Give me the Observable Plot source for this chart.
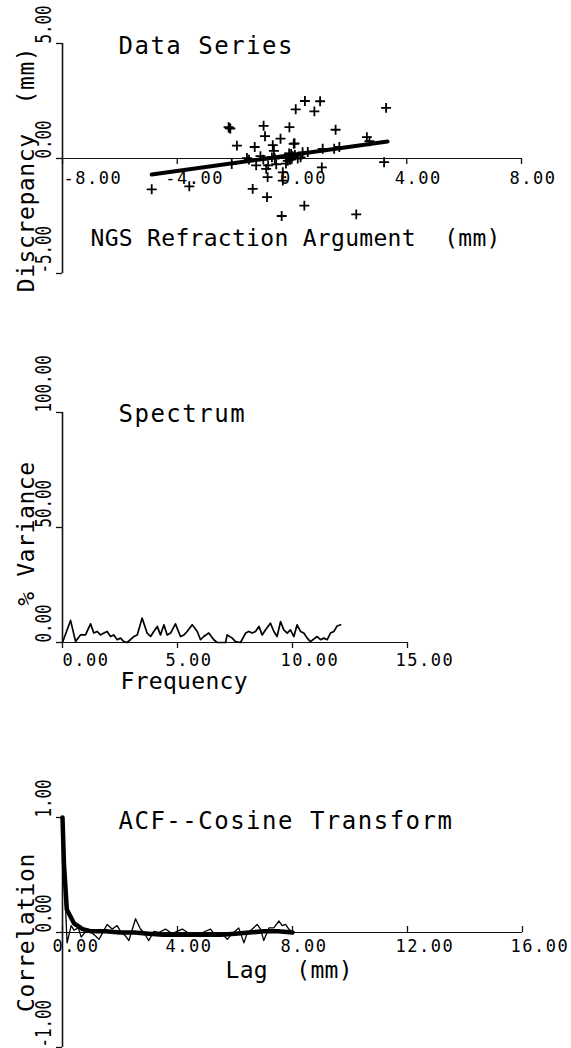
<!DOCTYPE html>
<html><head><meta charset="utf-8">
<script src="https://cdn.jsdelivr.net/npm/d3@7"></script>
<script src="https://cdn.jsdelivr.net/npm/@observablehq/plot@0.6"></script>
<style>
html,body{margin:0;padding:0;background:#fff;}
#wrap{position:relative;width:571px;height:1048px;overflow:hidden;background:#fff;}
.panel{position:absolute;left:0;}
svg{overflow:visible;}
g[aria-description="ptitle"] text{letter-spacing:1.5px;}
g[aria-description="xtick"] text{letter-spacing:1.5px;}
g[aria-description="xlabel"] text{letter-spacing:0.3px;}
g[aria-description="ylabel"] text{letter-spacing:0.6px;}
</style></head><body>
<div id="wrap">
<div id="p1" class="panel" style="top:0px"></div>
<div id="p2" class="panel" style="top:340px"></div>
<div id="p3" class="panel" style="top:720px"></div>
</div>
<script>
// ---------- Panel 1: Data Series ----------
const scatterX = [-4.89,-3.58,-2.18,-2.15,-2.21,-1.92,-1.30,-0.99,-0.94,-0.09,-0.40,-0.67,-0.63,0.06,0.09,0.13,0.45,0.78,0.98,1.52,2.61,3.28,3.21,-1.37,-0.87,-0.36,0.43,2.24,1.04,-0.85,-0.32,-0.32,-0.90,-1.25,-1.57,-0.83,-0.21,-0.09,-0.03,0.37,0.55,1.07,1.47,1.65,-2.10,-0.15,-0.05,0.02,-0.55,-0.70,0.30,2.70,-1.00,-0.60,-0.20,0.10,0.20,-1.10,-1.50,-0.10];
const scatterY = [-1.34,-1.21,1.33,1.30,1.36,0.56,0.50,1.42,0.97,1.36,0.86,0.58,0.33,0.64,0.66,2.14,2.50,2.05,2.49,1.25,0.93,2.20,-0.16,-1.32,-1.68,-2.50,-2.05,-2.43,-0.39,-0.81,-0.96,-0.60,-0.45,-0.30,0.02,-0.30,-0.22,0.01,0.20,0.27,0.28,0.42,0.42,0.50,-0.24,-0.10,-0.05,0.10,-0.25,0.05,0.05,0.75,-0.05,0.00,0.05,0.15,0.00,0.10,-0.05,0.22];
const fitX = [-4.89, 3.33];
const fitY = [-0.70, 0.74];
const p1XTicks = [-8, -4, 0, 4, 8];
const p1XTickLabels = ["-8.00", "-4.00", "0.00", "4.00", "8.00"];
const p1YTicks = [-5, 0, 5];
const p1YTickLabels = ["-5.00", "0.00", "5.00"];

// ---------- Panel 2: Spectrum ----------
const specFreq = [0.00,0.35,0.57,0.78,1.00,1.22,1.36,1.51,1.65,1.80,1.94,2.09,2.23,2.38,2.52,2.67,2.81,3.10,3.25,3.46,3.68,3.83,3.97,4.12,4.26,4.41,4.55,4.70,4.91,5.13,5.28,5.42,5.64,5.86,6.00,6.14,6.36,6.58,6.72,7.09,7.16,7.38,7.52,7.74,7.96,8.10,8.25,8.39,8.54,8.68,8.83,9.04,9.19,9.33,9.48,9.62,9.77,9.91,10.06,10.20,10.35,10.49,10.64,10.78,11.07,11.22,11.36,11.51,11.65,11.80,11.94,12.09];
const specVar = [0.0,9.6,0.4,3.3,3.3,8.1,4.1,4.8,3.3,4.1,4.8,2.6,3.3,1.2,1.9,0.4,0.0,2.6,3.3,10.6,4.1,2.6,4.8,7.0,3.3,7.7,3.3,4.1,8.1,2.6,3.3,4.8,7.7,4.8,1.2,2.6,4.1,1.2,0.0,0.0,3.3,1.9,0.4,0.0,4.1,4.8,4.1,4.8,7.0,3.3,5.5,8.4,4.8,2.6,9.1,5.5,4.1,5.5,2.6,7.7,4.8,4.1,1.9,0.4,2.6,1.2,1.9,1.2,4.1,4.8,7.2,7.7];
const p2XTicks = [0, 5, 10, 15];
const p2XTickLabels = ["0.00", "5.00", "10.00", "15.00"];
const p2YTicks = [0, 50, 100];
const p2YTickLabels = ["0.00", "50.00", "100.00"];

// ---------- Panel 3: ACF--Cosine Transform ----------
const acfLag = [0.00,0.10,0.16,0.30,0.40,0.55,0.65,0.87,1.15,1.27,1.38,1.55,1.73,1.90,2.02,2.19,2.31,2.54,2.71,2.83,3.00,3.18,3.35,3.58,3.81,4.17,4.40,4.63,4.87,5.15,5.32,5.56,5.73,5.90,6.13,6.31,6.42,6.60,6.77,6.89,7.00,7.18,7.35,7.53,7.64,7.76,7.87,8.00];
const acfVal = [1.00,0.25,-0.09,0.06,0.02,0.04,-0.04,0.03,-0.03,-0.06,-0.01,0.07,0.03,0.06,0.01,-0.03,-0.07,0.12,0.03,0.00,-0.07,0.01,0.00,0.03,-0.01,0.03,-0.01,-0.03,0.00,0.03,-0.03,-0.01,-0.06,-0.01,0.04,-0.09,-0.01,0.03,0.07,0.03,-0.07,0.04,0.04,0.10,0.06,0.07,0.03,0.00];
const acfSmoothLag = [0.00,0.05,0.15,0.40,0.70,1.00,1.50,2.00,2.50,3.00,3.50,4.00,4.50,5.00,5.50,6.00,6.50,7.00,7.50,8.00];
const acfSmoothVal = [1.00,0.60,0.20,0.08,0.03,0.01,0.01,0.00,0.00,-0.01,-0.02,-0.02,-0.02,-0.02,-0.02,-0.01,0.00,0.01,0.01,0.00];
const p3XTicks = [0, 4, 8, 12, 16];
const p3XTickLabels = ["0.00", "4.00", "8.00", "12.00", "16.00"];
const p3YTicks = [-1, 0, 1];
const p3YTickLabels = ["-1.00", "0.00", "1.00"];

const FONT = "'DejaVu Sans Mono', monospace";

function panel(id, F) {
  const x0 = F.xDomain[0];
  const xt = F.xTicks.map((v, i) => ({v, label: F.xTickLabels[i]}));
  const yt = F.yTicks.map((v, i) => ({v, label: F.yTickLabels[i]}));
  const chart = Plot.plot({
    width: 571, height: F.height,
    marginLeft: 62, marginRight: F.marginRight, marginTop: F.marginTop, marginBottom: F.marginBottom,
    x: {domain: F.xDomain, axis: null},
    y: {domain: F.yDomain, axis: null},
    style: {fontFamily: FONT, background: "transparent", overflow: "visible", color: "#000"},
    marks: [
      Plot.ruleY([0], {stroke: "#111", strokeWidth: 1.2}),
      Plot.ruleX([x0], {stroke: "#111", strokeWidth: 1.6}),
      Plot.ruleX(F.xTicks, {x: d => d, y1: () => 0, y2: () => 0,
        insetTop: F.tickUp ? -6 : 0, insetBottom: F.tickUp ? 0 : -6, stroke: "#111", strokeWidth: 1.3}),
      Plot.ruleY(F.yTicks, {y: d => d, x1: () => x0, x2: () => x0, insetLeft: -6, stroke: "#111", strokeWidth: 1.3}),
      ...F.marks,
      Plot.text(xt.slice(0, 1), {x: "v", y: () => 0, text: "label", textAnchor: "start", dx: F.firstDx, dy: F.tickDy, fontSize: 17, ariaDescription: "xtick"}),
      Plot.text(xt.slice(1), {x: "v", y: () => 0, text: "label", textAnchor: "start", dx: -12, dy: F.tickDy, fontSize: 17, ariaDescription: "xtick"}),
      Plot.text(yt, {y: "v", text: "label", frameAnchor: "left", dx: -19, rotate: -90, textAnchor: "start", fontSize: 22, ariaDescription: "ytick"}),
      Plot.text([F.title], {frameAnchor: "top-left", dx: 56, dy: F.titleDy, textAnchor: "start", fontSize: 24, ariaDescription: "ptitle"}),
      Plot.text([F.xLabel], {y: () => 0, frameAnchor: "left", dx: F.xLabelDx, dy: F.xLabelDy, textAnchor: "start", fontSize: 23, ariaDescription: "xlabel"}),
      Plot.text([F.yLabel], {frameAnchor: "left", dx: -36, dy: F.yLabelDy, rotate: -90, textAnchor: "middle", fontSize: 23, ariaDescription: "ylabel"})
    ]
  });
  d3.select(chart).selectAll('g[aria-description="ytick"] text').each(function() {
    const t = this.getAttribute("transform") || "";
    this.setAttribute("transform", t + " scale(0.72,1)");
  });
  document.getElementById(id).appendChild(chart);
}

const scatter = scatterX.map((x, i) => ({x, y: scatterY[i]}));
const fit = fitX.map((x, i) => ({x, y: fitY[i]}));
panel("p1", {
  height: 300, marginTop: 43, marginBottom: 27, marginRight: 50,
  xDomain: [-8, 8], yDomain: [-5, 5],
  xTicks: p1XTicks, xTickLabels: p1XTickLabels, yTicks: p1YTicks, yTickLabels: p1YTickLabels,
  tickUp: false, tickDy: 20, firstDx: 1, titleDy: -7,
  title: "Data Series", xLabel: "NGS Refraction Argument  (mm)", xLabelDx: 28, xLabelDy: 80,
  yLabel: "Discrepancy  (mm)", yLabelDy: 11,
  marks: [
    Plot.dot(scatter, {x: "x", y: "y", symbol: "plus", r: 3.3, stroke: "#000", strokeWidth: 1.8}),
    Plot.line(fit, {x: "x", y: "y", stroke: "#000", strokeWidth: 4})
  ]
});

const spec = specFreq.map((f, i) => ({f, v: specVar[i]}));
panel("p2", {
  height: 340, marginTop: 72, marginBottom: 38, marginRight: 164,
  xDomain: [0, 15], yDomain: [0, 100],
  xTicks: p2XTicks, xTickLabels: p2XTickLabels, yTicks: p2YTicks, yTickLabels: p2YTickLabels,
  tickUp: false, tickDy: 18, firstDx: 0, titleDy: -8,
  title: "Spectrum", xLabel: "Frequency", xLabelDx: 58, xLabelDy: 39,
  yLabel: "% Variance", yLabelDy: 6,
  marks: [
    Plot.line(spec, {x: "f", y: "v", stroke: "#000", strokeWidth: 1.7})
  ]
});

const acf = acfLag.map((l, i) => ({l, v: acfVal[i]}));
const acfS = acfSmoothLag.map((l, i) => ({l, v: acfSmoothVal[i]}));
panel("p3", {
  height: 328, marginTop: 97, marginBottom: 1, marginRight: 49,
  xDomain: [0, 16], yDomain: [-1, 1],
  xTicks: p3XTicks, xTickLabels: p3XTickLabels, yTicks: p3YTicks, yTickLabels: p3YTickLabels,
  tickUp: true, tickDy: 14, firstDx: -10, titleDy: -6,
  title: "ACF--Cosine Transform", xLabel: "Lag  (mm)", xLabelDx: 163, xLabelDy: 38,
  yLabel: "Correlation", yLabelDy: 0,
  marks: [
    Plot.line(acf, {x: "l", y: "v", stroke: "#000", strokeWidth: 1.3}),
    Plot.line(acfS, {x: "l", y: "v", stroke: "#000", strokeWidth: 4.5})
  ]
});
</script>
</body></html>
